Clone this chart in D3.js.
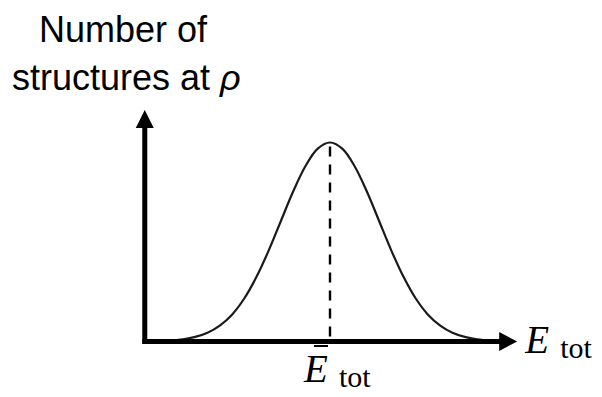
<!DOCTYPE html>
<html>
<head>
<meta charset="utf-8">
<script src="https://cdn.jsdelivr.net/npm/d3@7"></script>
</head>
<body style="margin:0">
<svg id="chart" width="602" height="397"></svg>
<script>
// ---- data (x in units of the spread, y relative height) ----
const curveX = [-3.3, -3, -2.75, -2.5, -2.25, -2, -1.75, -1.5, -1.25, -1, -0.75, -0.5, -0.25, 0,
                0.25, 0.5, 0.75, 1, 1.25, 1.5, 1.75, 2, 2.25, 2.5, 2.75, 3, 3.3];
const curveY = [0.004, 0.011, 0.023, 0.044, 0.080, 0.135, 0.216, 0.325, 0.458, 0.607, 0.755, 0.882, 0.969, 1,
                0.969, 0.882, 0.755, 0.607, 0.458, 0.325, 0.216, 0.135, 0.080, 0.044, 0.023, 0.011, 0.004];
const meanX = [0];
const axisX = [-3.78, 3.82];   // origin, arrow tip
const axisY = [0, 1.163];      // origin, arrow tip
const yLabelLines = ["Number of", "structures at "];
const yLabelSymbol = "ρ";
const xLabelMain = "E";
const xLabelSub = "tot";

// ---- scales ----
const svg = d3.select("#chart");
const x = d3.scaleLinear().domain([-4, 4]).range([134, 526]);
const y = d3.scaleLinear().domain([0, 1]).range([341.5, 142.5]);

// ---- curve ----
const pts = curveX.map((v, i) => [v, curveY[i]]);
svg.append("path")
  .datum(pts)
  .attr("fill", "none")
  .attr("stroke", "#1a1a1a")
  .attr("stroke-width", 2.2)
  .attr("d", d3.line().x(d => x(d[0])).y(d => y(d[1])).curve(d3.curveCatmullRom));

// ---- dashed mean line ----
svg.selectAll("line.mean").data(meanX).enter().append("line")
  .attr("class", "mean")
  .attr("x1", d => x(d)).attr("x2", d => x(d))
  .attr("y1", y(1) + 4).attr("y2", y(0))
  .attr("stroke", "#000")
  .attr("stroke-width", 2.4)
  .attr("stroke-dasharray", "10,8");

// ---- axes ----
const ox = x(axisX[0]), oy = y(axisY[0]);
const tipX = x(axisX[1]), tipY = y(axisY[1]);
svg.append("line")
  .attr("x1", ox).attr("x2", ox)
  .attr("y1", oy + 2.5).attr("y2", tipY + 16)
  .attr("stroke", "#000").attr("stroke-width", 5);
svg.append("path")
  .attr("d", `M${ox},${tipY} L${ox - 9},${tipY + 18} L${ox + 9},${tipY + 18} Z`)
  .attr("fill", "#000");
svg.append("line")
  .attr("x1", ox - 2.5).attr("x2", tipX - 15)
  .attr("y1", oy).attr("y2", oy)
  .attr("stroke", "#000").attr("stroke-width", 5);
svg.append("path")
  .attr("d", `M${tipX},${oy} L${tipX - 18},${oy - 9.5} L${tipX - 18},${oy + 9.5} Z`)
  .attr("fill", "#000");

// ---- y label ----
svg.append("text").attr("x", 39).attr("y", 42)
  .attr("font-family", "Liberation Sans").attr("font-size", 36)
  .text(yLabelLines[0]);
const t2 = svg.append("text").attr("x", 12).attr("y", 90)
  .attr("font-family", "Liberation Sans").attr("font-size", 36);
t2.append("tspan").text(yLabelLines[1]);
t2.append("tspan").attr("font-style", "italic").text(yLabelSymbol);

// ---- x labels (math style) ----
function mathLabel(xPos, baseY, bar) {
  svg.append("text")
    .attr("x", xPos).attr("y", baseY)
    .attr("font-family", "Liberation Serif")
    .attr("font-size", 39).attr("font-style", "italic")
    .text(xLabelMain);
  svg.append("text")
    .attr("x", xPos + 35).attr("y", baseY + 5)
    .attr("font-family", "Liberation Serif")
    .attr("font-size", 30)
    .text(xLabelSub);
  if (bar) {
    svg.append("rect")
      .attr("x", xPos + 10).attr("y", baseY - 37)
      .attr("width", 14).attr("height", 2)
      .attr("fill", "#000");
  }
}
mathLabel(tipX + 8, oy + 11.5, false);
mathLabel(x(meanX[0]) - 26, oy + 40.5, true);
</script>
</body>
</html>
